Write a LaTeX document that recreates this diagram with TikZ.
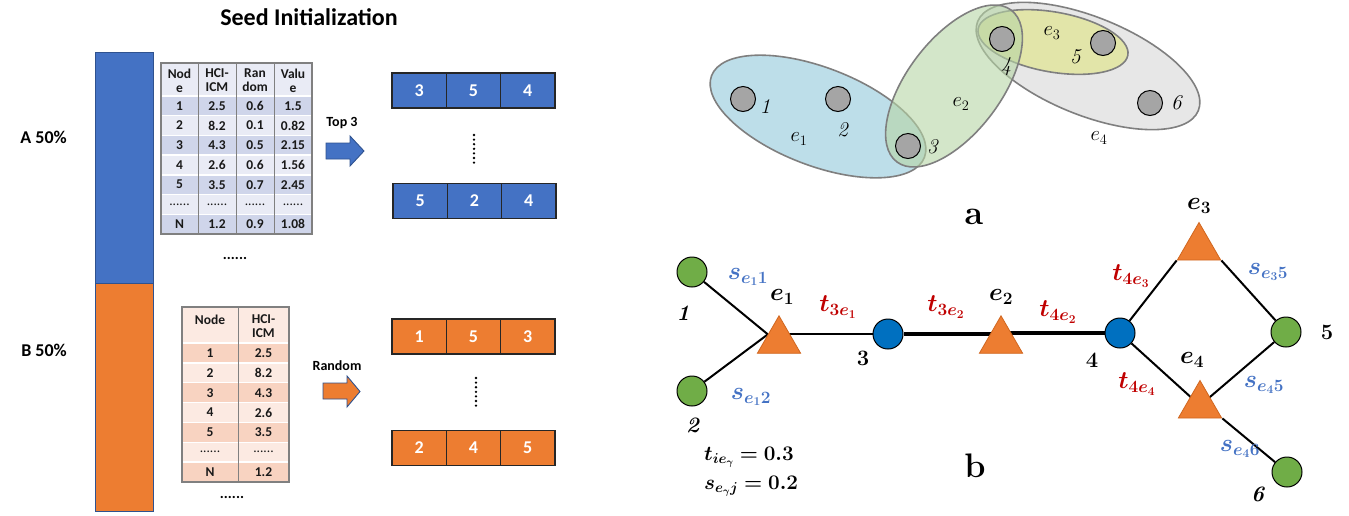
\documentclass[tikz,border=0pt]{standalone}
\usepackage[no-math]{fontspec}
\newfontfamily\carl{Carlito}
\usepackage{bm}
\usetikzlibrary{shapes.geometric,backgrounds}
\definecolor{oblue}{HTML}{4472C4}
\definecolor{oorange}{HTML}{ED7D31}
\definecolor{oborder}{HTML}{2F528F}
\definecolor{tb1}{HTML}{CFD5EA}
\definecolor{tb2}{HTML}{E9EBF5}
\definecolor{to1}{HTML}{F8D3C1}
\definecolor{to2}{HTML}{FCEAE2}
\definecolor{tgray}{HTML}{808080}
\definecolor{hgray}{HTML}{7F7F7F}
\definecolor{hnodefill}{HTML}{A5A5A5}
\definecolor{ecolA}{HTML}{91C8DA}
\definecolor{ecolB}{HTML}{B6D5A5}
\definecolor{ecolC}{HTML}{DFE47F}
\definecolor{ecolD}{HTML}{D7D7D7}
\definecolor{ggreen}{HTML}{70AD47}
\definecolor{gblue}{HTML}{0070C0}
\definecolor{triborder}{HTML}{D0661F}
\definecolor{labred}{HTML}{C00000}
\definecolor{labblue}{HTML}{4472C4}
\tikzset{
  sanslab/.style={font=\carl\bfseries\fontsize{#1}{#1}\selectfont, inner sep=0pt},
  tcell/.style={font=\carl\bfseries\fontsize{13.5}{14}\selectfont, inner sep=0pt, align=center, text=black!90},
  sbox/.style={draw=black!85, line width=1.3pt, minimum width=54.3pt, minimum height=35pt, inner sep=0pt, text=white, font=\carl\bfseries\fontsize{18}{19}\selectfont},
  barbox/.style={draw=oborder, line width=0.8pt, minimum width=58pt, inner sep=0pt},
  blockarrow/.style={draw=oborder, line width=0.9pt, line join=miter},
  dotcol/.style={line width=2.6pt, line cap=round, dash pattern=on 0pt off 4.6pt},
  hedge/.style={draw=hgray, line width=1.6pt, fill opacity=0.6},
  hnode/.style={circle, draw=black, fill=hnodefill, line width=1pt, minimum size=25pt, inner sep=0pt},
  hlab/.style={font=\fontsize{21}{24}\selectfont, inner sep=0pt},
  gnode/.style={circle, draw=black, line width=1pt, minimum size=30pt, inner sep=0pt},
  tri/.style={regular polygon, regular polygon sides=3, minimum size=50pt, inner sep=0pt, fill=oorange, draw=triborder, line width=0.8pt},
  tlab/.style={text=labred, font=\fontsize{24}{26}\selectfont, inner sep=0pt},
  slab/.style={text=labblue, font=\fontsize{24}{26}\selectfont, inner sep=0pt},
  elab/.style={font=\fontsize{25}{27}\selectfont, inner sep=0pt},
  nlab/.style={font=\fontsize{22}{24}\selectfont\bfseries, inner sep=0pt},
  bigcap/.style={font=\fontsize{34}{38}\selectfont\bfseries, inner sep=0pt},
  gedge/.style={line width=2pt},
  gthick/.style={line width=4.5pt},
}
\begin{document}
\begin{tikzpicture}[x=1pt,y=-1pt]
\useasboundingbox (0,0) rectangle (1349,515);

% ---------- left part ----------
\node[sanslab=24] (title) at (309,17) {Seed Initialization};
\node[barbox, fill=oblue, minimum height=231pt] (barA) at (124,167.5) {};
\node[barbox, fill=oorange, minimum height=228pt] (barB) at (124,397) {};
\node[sanslab=18, anchor=east] (labA) at (67,137) {A 50\%};
\node[sanslab=18, anchor=east] (labB) at (67,350) {B 50\%};

% table 1
\fill[tb2] (161,63) rectangle (312,96);
\node[tcell] (t1h1) at (179.5,80.5) {Nod\\e};
\node[tcell] (t1h2) at (217,80.5) {HCI-\\ICM};
\node[tcell] (t1h3) at (255,80.5) {Ran\\dom};
\node[tcell] (t1h4) at (293,80.5) {Valu\\e};
\foreach \a/\b/\c/\d [count=\i] in {1/2.5/0.6/1.5, 2/8.2/0.1/0.82, 3/4.3/0.5/2.15, 4/2.6/0.6/1.56, 5/3.5/0.7/2.45, {\mdseries......}/{\mdseries......}/{\mdseries......}/{\mdseries......}, N/1.2/0.9/1.08}{
  \pgfmathsetmacro\yy{96+(\i-0.5)*19.7}
  \ifodd\i\relax\def\cc{tb1}\else\def\cc{tb2}\fi
  \fill[fill=\cc] (161,{\yy-9.85}) rectangle (312,{\yy+9.85});
  \node[tcell] (t1r\i c1) at (179.5,\yy) {\a};
  \node[tcell] (t1r\i c2) at (217,\yy) {\b};
  \node[tcell] (t1r\i c3) at (255,\yy) {\c};
  \node[tcell] (t1r\i c4) at (293,\yy) {\d};
}
\foreach \k in {0,...,6}{\draw[white, line width=1.4pt] (161,{96+\k*19.7}) -- (312,{96+\k*19.7});}
\foreach \xx in {198,236,274}{\draw[tgray, line width=1pt] (\xx,63) -- (\xx,234);}
\draw[tgray, line width=1.2pt] (161,63) rectangle (312,234);
\node[sanslab=15] (dots1) at (235,258) {......};

% table 2
\fill[to2] (182,307) rectangle (289,343);
\node[tcell] (t2h1) at (210,320) {Node};
\node[tcell] (t2h2) at (263.5,326.5) {HCI-\\ICM};
\foreach \a/\b [count=\i] in {1/2.5, 2/8.2, 3/4.3, 4/2.6, 5/3.5, {\mdseries......}/{\mdseries......}, N/1.2}{
  \pgfmathsetmacro\yy{343+(\i-0.5)*19.86}
  \ifodd\i\relax\def\cc{to1}\else\def\cc{to2}\fi
  \fill[fill=\cc] (182,{\yy-9.93}) rectangle (289,{\yy+9.93});
  \node[tcell] (t2r\i c1) at (210,\yy) {\a};
  \node[tcell] (t2r\i c2) at (263.5,\yy) {\b};
}
\foreach \k in {0,...,6}{\draw[white, line width=1.4pt] (182,{343+\k*19.86}) -- (289,{343+\k*19.86});}
\draw[tgray, line width=1pt] (238,307) -- (238,482);
\draw[tgray, line width=1.2pt] (182,307) rectangle (289,482);
\node[sanslab=15] (dots2) at (232,497) {......};

% arrows
\node[sanslab=14] (top3) at (342,123) {Top 3};
\filldraw[blockarrow, fill=oblue] (326,143) -- (350,143) -- (350,136) -- (364,151) -- (350,166) -- (350,159) -- (326,159) -- cycle;
\node[sanslab=14] (rnd) at (337,366) {Random};
\filldraw[blockarrow, fill=oorange] (323,383) -- (347,383) -- (347,376) -- (360,391.5) -- (347,407) -- (347,399) -- (323,399) -- cycle;

% seed boxes
\foreach \v [count=\j] in {3,5,4}{\node[sbox, fill=oblue] (bA\j) at ({392+(\j-0.5)*54.3},90.5) {\v};}
\foreach \v [count=\j] in {5,2,4}{\node[sbox, fill=oblue] (bB\j) at ({393+(\j-0.5)*54.3},201) {\v};}
\foreach \v [count=\j] in {1,5,3}{\node[sbox, fill=oorange] (oA\j) at ({392+(\j-0.5)*54.3},336.5) {\v};}
\foreach \v [count=\j] in {2,4,5}{\node[sbox, fill=oorange] (oB\j) at ({392+(\j-0.5)*54.3},448) {\v};}
\draw[dotcol] (474,135) -- (474,163);
\draw[dotcol] (476,378) -- (476,407);

% ---------- hypergraph (a) ----------
\filldraw[hedge, fill=ecolD, shift={(1088,66)}, rotate=-22] (0,0) ellipse [x radius=119pt, y radius=49pt];
\filldraw[hedge, fill=ecolC, shift={(1053,42)}, rotate=-10] (0,0) ellipse [x radius=76pt, y radius=30pt];
\filldraw[hedge, fill=ecolA, shift={(818,116.5)}, rotate=-21] (0,0) ellipse [x radius=114pt, y radius=49pt];
\filldraw[hedge, fill=ecolB, shift={(954,86)}, rotate=53] (0,0) ellipse [x radius=95pt, y radius=47pt];
\node[hnode] (h1) at (743,99) {};
\node[hnode] (h2) at (838,99) {};
\node[hnode] (h3) at (908,146) {};
\node[hnode] (h4) at (1002,39) {};
\node[hnode] (h5) at (1103,43) {};
\node[hnode] (h6) at (1150,103) {};
\node[hlab] (hl1) at (765,107) {\textit{1}};
\node[hlab] (hl2) at (843,130) {\textit{2}};
\node[hlab] (hl3) at (933,147) {\textit{3}};
\node[hlab] (hl4) at (1006,67) {\textit{4}};
\node[hlab] (hl5) at (1076,57) {\textit{5}};
\node[hlab] (hl6) at (1177,103) {\textit{6}};
\node[hlab] (he1) at (799,139) {$e_1$};
\node[hlab] (he2) at (961,104) {$e_2$};
\node[hlab] (he3) at (1052,33) {$e_3$};
\node[hlab] (he4) at (1099,138) {$e_4$};
\node[bigcap] (capa) at (974,217) {a};
\node[bigcap] (capb) at (975,466) {b};

% ---------- graph (b) ----------
\node[gnode, fill=ggreen] (n1) at (692,272) {};
\node[gnode, fill=ggreen] (n2) at (692,391) {};
\node[tri] (e1) at (779,340.8) {};
\node[gnode, fill=gblue] (n3) at (888,334) {};
\node[tri] (e2) at (1001,340.8) {};
\node[gnode, fill=gblue] (n4) at (1120,333) {};
\node[tri] (e3) at (1199,247.5) {};
\node[gnode, fill=ggreen] (n5) at (1286,332) {};
\node[tri] (e4) at (1200,405.5) {};
\node[gnode, fill=ggreen] (n6) at (1287,472) {};
\begin{pgfonlayer}{background}
\draw[gedge] (n1) -- (e1.side 1);
\draw[gedge] (n2) -- (e1.side 1);
\draw[gedge] (e1.center |- n3.center) -- (n3);
\draw[gthick] (n3) -- (e2.center |- n3.center);
\draw[gthick] (e2.center |- n4.center) -- (n4);
\draw[gedge] (n4) -- (e3.corner 2);
\draw[gedge] (e3.corner 3) -- (n5);
\draw[gedge] (n4) -- (e4.center);
\draw[gedge] (n5) -- (e4.center);
\draw[gedge] (e4.corner 3) -- (n6);
\end{pgfonlayer}
\node[elab] (le1) at (782,297) {$\bm{e_1}$};
\node[elab] (le2) at (1001,297) {$\bm{e_2}$};
\node[elab] (le3) at (1199,206) {$\bm{e_3}$};
\node[elab] (le4) at (1192,360) {$\bm{e_4}$};
\node[tlab] (lt1) at (838,307) {$\bm{t_{3e_1}}$};
\node[tlab] (lt2) at (946,307) {$\bm{t_{3e_2}}$};
\node[tlab] (lt3) at (1058,312) {$\bm{t_{4e_2}}$};
\node[tlab] (lt4) at (1131,276) {$\bm{t_{4e_3}}$};
\node[tlab] (lt5) at (1137,384) {$\bm{t_{4e_4}}$};
\node[slab] (ls1) at (748,277) {$\bm{s_{e_1 1}}$};
\node[slab] (ls2) at (751,397) {$\bm{s_{e_1 2}}$};
\node[slab] (ls3) at (1268,272) {$\bm{s_{e_3 5}}$};
\node[slab] (ls4) at (1264,385) {$\bm{s_{e_4 5}}$};
\node[slab] (ls5) at (1240,449) {$\bm{s_{e_4 6}}$};
\node[nlab] (ln1) at (683,313) {\textit{1}};
\node[nlab] (ln2) at (693,425) {\textit{2}};
\node[nlab] (ln3) at (863,358) {3};
\node[nlab] (ln4) at (1092,360) {4};
\node[nlab] (ln5) at (1327,332) {5};
\node[nlab] (ln6) at (1258,494) {\textit{6}};
\node[anchor=west, font=\fontsize{20}{22}\selectfont, inner sep=0pt] (f1) at (704,457) {$\bm{t_{ie_\gamma} = 0.3}$};
\node[anchor=west, font=\fontsize{20}{22}\selectfont, inner sep=0pt] (f2) at (704,486) {$\bm{s_{e_\gamma j} = 0.2}$};
\end{tikzpicture}
\end{document}
